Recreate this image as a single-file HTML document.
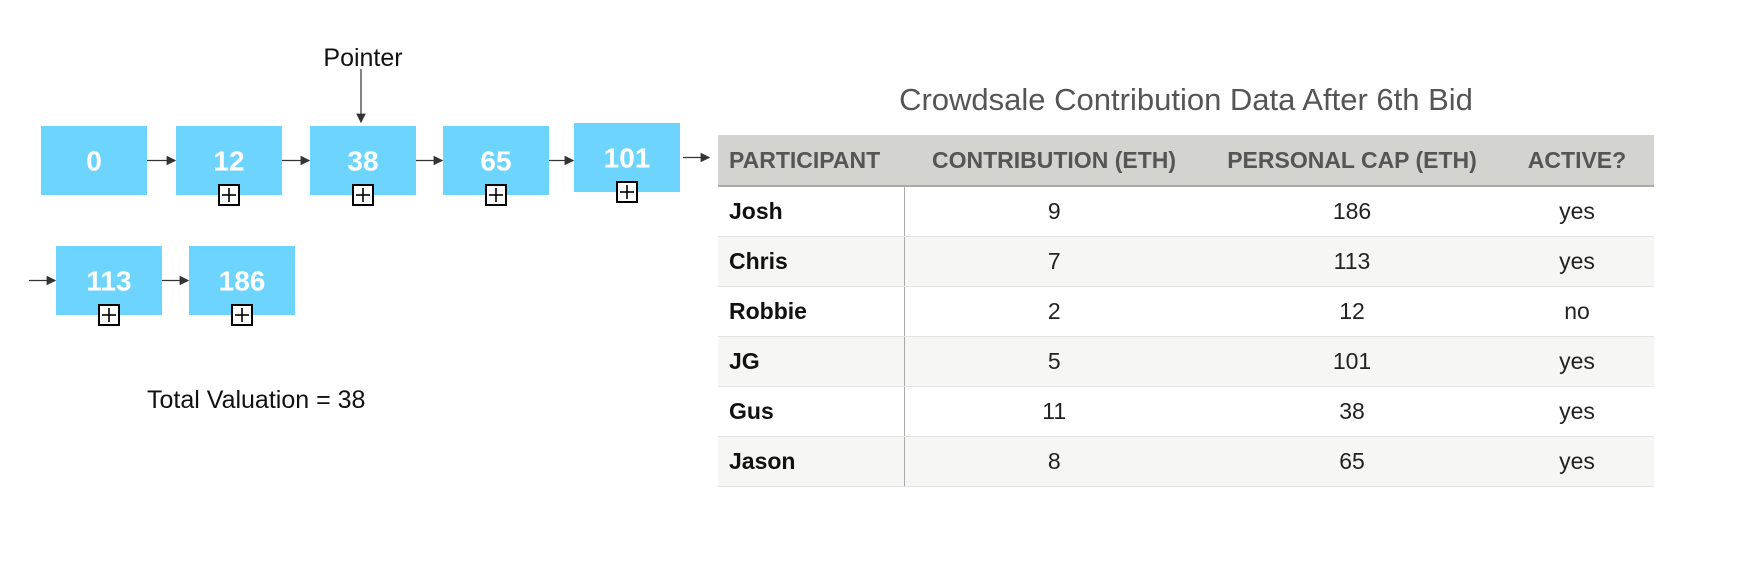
<!DOCTYPE html>
<html><head><meta charset="utf-8"><style>
body{margin:0;width:1740px;height:570px;background:#fff;position:relative;overflow:hidden;font-family:"Liberation Sans",sans-serif}
.abs{position:absolute}
table{border-collapse:collapse;position:absolute;left:718px;top:135px;width:936px;table-layout:fixed}
td,th{height:50px;padding:0;font-size:23px;box-sizing:border-box;white-space:nowrap;overflow:visible}
th{background:#d3d3cf;color:#555;font-weight:bold;border-bottom:2px solid #aaa;height:51px;font-size:23px}
td{border-bottom:1px solid #e4e4e4;color:#222;text-align:center}
td.n{text-align:left;padding-left:11px;font-weight:bold;border-right:1px solid #aaa;color:#111}
tr.alt td{background:#f6f6f4}
</style></head><body>
<svg class="abs" style="left:0;top:0" width="720" height="570">
<defs><marker id="ah" markerWidth="8" markerHeight="8" refX="7" refY="4" orient="auto"><path d="M0,0 L8,4 L0,8 z" fill="#333"/></marker></defs>
<text x="363" y="66" font-size="25" text-anchor="middle" fill="#111">Pointer</text>
<line x1="361" y1="69" x2="361" y2="122" stroke="#333" stroke-width="1.2" marker-end="url(#ah)"/>
<g id="nodes"></g>
<text x="147" y="408" font-size="25" fill="#111">Total Valuation = 38</text>
</svg>
<div class="abs" style="left:718px;width:936px;top:82px;text-align:center;font-size:31px;color:#555">Crowdsale Contribution Data After 6th Bid</div>
<table>
<colgroup><col style="width:186px"><col style="width:300px"><col style="width:296px"><col style="width:154px"></colgroup>
<tr><th style="text-align:left;padding-left:11px">PARTICIPANT</th><th>CONTRIBUTION (ETH)</th><th>PERSONAL CAP (ETH)</th><th>ACTIVE?</th></tr>
<tr><td class="n">Josh</td><td>9</td><td>186</td><td>yes</td></tr>
<tr class="alt"><td class="n">Chris</td><td>7</td><td>113</td><td>yes</td></tr>
<tr><td class="n">Robbie</td><td>2</td><td>12</td><td>no</td></tr>
<tr class="alt"><td class="n">JG</td><td>5</td><td>101</td><td>yes</td></tr>
<tr><td class="n">Gus</td><td>11</td><td>38</td><td>yes</td></tr>
<tr class="alt"><td class="n">Jason</td><td>8</td><td>65</td><td>yes</td></tr>
</table>
<script>
const values=[0,12,38,65,101,113,186];
const boxX=[41,176,310,443,574,56,189];
const boxY=[126,126,126,126,123,246,246];
const hasPlus=[false,true,true,true,true,true,true];
const g=document.getElementById('nodes');
const NS='http://www.w3.org/2000/svg';
function mk(t,a){const e=document.createElementNS(NS,t);for(const k in a)e.setAttribute(k,a[k]);g.appendChild(e);return e;}
values.forEach((v,i)=>{
 const x=boxX[i],y=boxY[i],w=106,h=69;
 const r=mk('rect',{x:x,y:y,width:w,height:h,fill:'#6dd4fd'});
 
 
 const t=mk('text',{x:x+w/2,y:y+h/2+10,'font-size':28,'font-weight':'bold',fill:'#fff','text-anchor':'middle'});
 t.textContent=v;
 
 
 if(hasPlus[i]){
  const cx=x+w/2,cy=y+h;
  mk('rect',{x:cx-10,y:cy-10,width:20,height:20,fill:'#fff',stroke:'#000','stroke-width':2});
  mk('line',{x1:cx-7,y1:cy,x2:cx+7,y2:cy,stroke:'#000','stroke-width':1.6});
  mk('line',{x1:cx,y1:cy-7,x2:cx,y2:cy+7,stroke:'#000','stroke-width':1.6});
 }
 let ax1=null,ax2,ay=y+h/2;
 if(i<4){ax1=x+w;ax2=boxX[i+1];}
 else if(i==4){ax1=x+w+3;ax2=x+w+30;}
 else if(i==5){ax1=x+w;ax2=boxX[6];}
 if(ax1!==null){const l=mk('line',{x1:ax1,y1:ay,x2:ax2-1,y2:ay,stroke:'#333','stroke-width':1.2,'marker-end':'url(#ah)'});
  
  }
 if(i==5){const l=mk('line',{x1:29,y1:ay,x2:x-1,y2:ay,stroke:'#333','stroke-width':1.2,'marker-end':'url(#ah)'});
  
  }
});
</script>
</body></html>
